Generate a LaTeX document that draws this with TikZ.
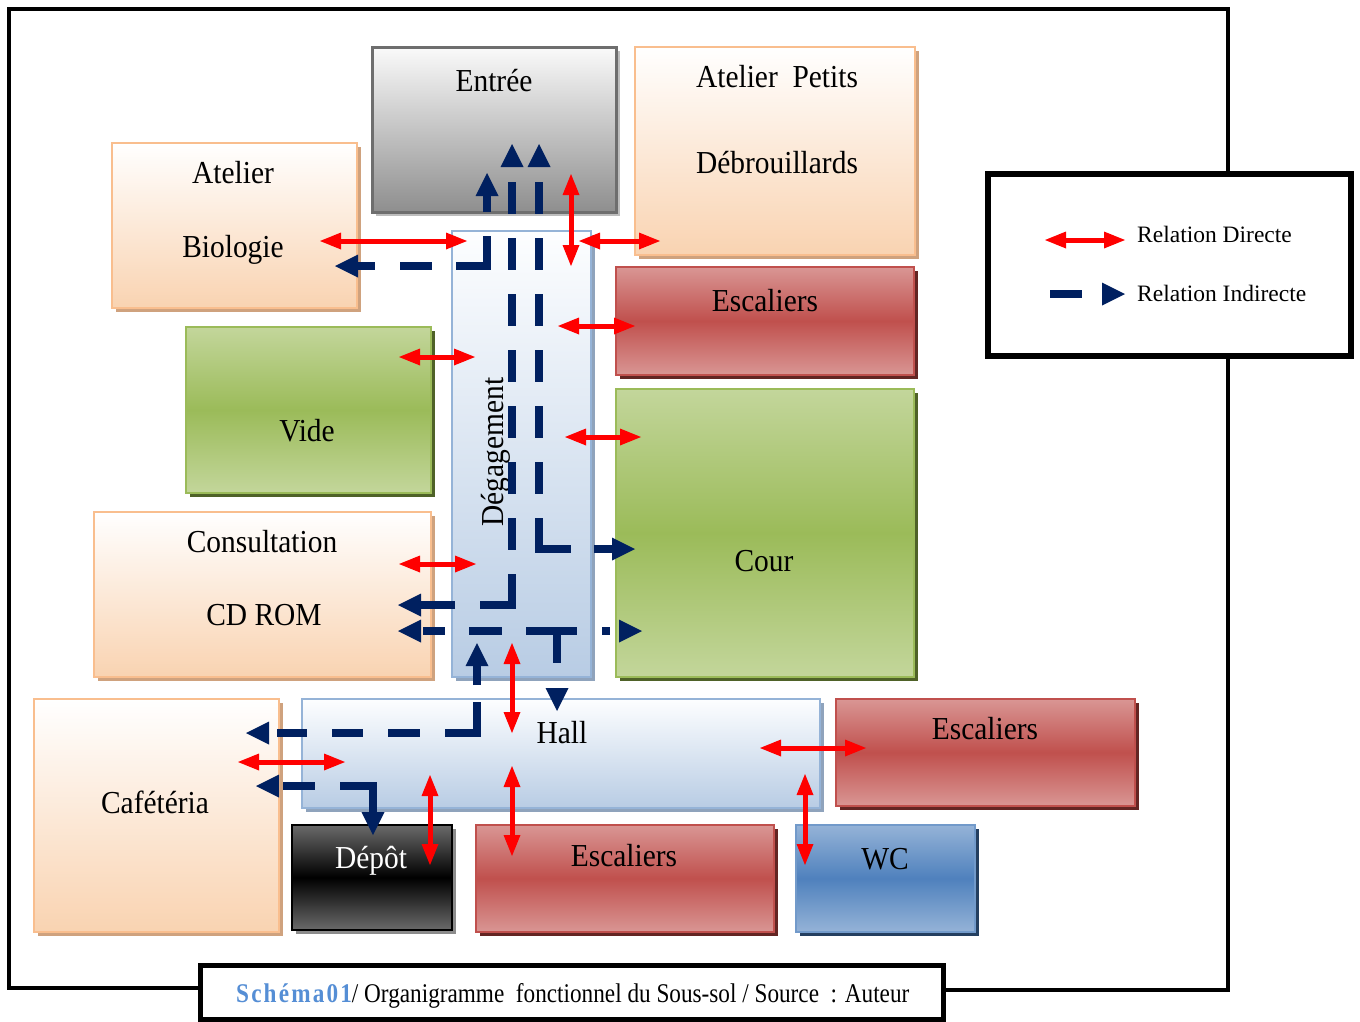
\documentclass[tikz,border=0pt]{standalone}
\usepackage{fontspec}
\setmainfont{Liberation Serif}
\newfontfamily\labf{Liberation Serif}[FakeStretch=0.92]
\newfontfamily\capf{Liberation Serif}[FakeStretch=0.86]
\newfontfamily\capsf{Liberation Serif}[FakeStretch=0.86,LetterSpace=8]
\usetikzlibrary{arrows.meta,shadows,fit}

\definecolor{navyc}{HTML}{002060}
\definecolor{redc}{HTML}{FF0000}
\definecolor{peachF}{HTML}{F9D3B1}
\definecolor{peachB}{HTML}{F9BE8E}
\definecolor{peachS}{HTML}{CFA27E}
\definecolor{grayT}{HTML}{FAFAFA}
\definecolor{grayB}{HTML}{8E8E8E}
\definecolor{grayD}{HTML}{6E6E6E}
\definecolor{grayS}{HTML}{BDBDBD}
\definecolor{blueT}{HTML}{FDFEFF}
\definecolor{blueB}{HTML}{B8CCE4}
\definecolor{blueD}{HTML}{95B3D7}
\definecolor{blueS}{HTML}{8FA3BC}
\definecolor{redL}{HTML}{D99694}
\definecolor{redM}{HTML}{C0504D}
\definecolor{redS}{HTML}{632523}
\definecolor{grnL}{HTML}{C3D69B}
\definecolor{grnM}{HTML}{9BBB59}
\definecolor{grnS}{HTML}{4F6228}
\definecolor{wcL}{HTML}{95B3D7}
\definecolor{wcM}{HTML}{4F81BD}
\definecolor{wcS}{HTML}{243F60}
\definecolor{dpL}{HTML}{6A6A6A}
\definecolor{dpS}{HTML}{8C8C8C}
\definecolor{capblue}{HTML}{558ED5}

\tikzset{
  redtip/.tip={Triangle[length=21pt,width=17pt,line width=0pt]},
  navtip/.tip={Triangle[length=23pt,width=23pt,line width=0pt]},
  room/.style={rectangle, inner sep=0pt, outer sep=0pt, line width=2.5pt},
  shd/.style={drop shadow={shadow xshift=4pt, shadow yshift=-4pt, opacity=1, fill=#1}},
  peachbox/.style={room, draw=peachB, top color=white, bottom color=peachF, shd=peachS},
  graybox/.style={room, draw=grayD, line width=3pt, top color=grayT, bottom color=grayB, shd=grayS},
  bluebox/.style={room, draw=blueD, top color=blueT, bottom color=blueB, shd=blueS},
  redbox/.style={room, draw=redM, top color=redL, bottom color=redL, middle color=redM, shd=redS},
  greenbox/.style={room, draw=grnM, top color=grnL, bottom color=grnL, middle color=grnM, shd=grnS},
  wcbox/.style={room, draw=wcM!80, top color=wcL, bottom color=wcL, middle color=wcM, shd=wcS},
  blackbox/.style={room, draw=black, top color=dpL, bottom color=dpL, middle color=black, shd=dpS},
  lab/.style={font=\labf\fontsize{32}{36}\selectfont, inner sep=0pt, anchor=base},
  legtext/.style={font=\fontsize{23.5}{26}\selectfont, inner sep=0pt, anchor=base west},
  direct/.style={draw=redc, line width=5pt, redtip-redtip},
  indirect/.style={draw=navyc, line width=7.5pt},
  frame/.style={draw=black, line width=4pt},
}

\begin{document}
\begin{tikzpicture}[x=1pt, y=-1pt]
\useasboundingbox (0,0) rectangle (1360,1021);

% outer frame
\draw[frame] (1228,174) -- (1228,9) -- (9,9) -- (9,988) -- (200,988);
\draw[frame] (943,990) -- (1228,990) -- (1228,356);

% rooms
\node[graybox, fit={(372,47)(616,212)}] (entree) {};
\node[peachbox, fit={(635,47)(915,255)}] (debr) {};
\node[peachbox, fit={(112,143)(357,308)}] (bio) {};
\node[bluebox, fit={(452,231)(591,677)}] (deg) {};
\node[redbox, fit={(616,267)(914,375)}] (esc1) {};
\node[greenbox, fit={(186,327)(431,493)}] (vide) {};
\node[greenbox, fit={(616,389)(914,677)}] (cour) {};
\node[peachbox, fit={(94,512)(431,677)}] (cons) {};
\node[bluebox, fit={(302,699)(820,808)}] (hall) {};
\node[redbox, fit={(836,699)(1135,806)}] (esc2) {};
\node[peachbox, fit={(34,699)(279,932)}] (cafe) {};
\node[blackbox, fit={(292,825)(452,930)}] (depot) {};
\node[redbox, fit={(476,825)(774,932)}] (esc3) {};
\node[wcbox, fit={(796,825)(975,932)}] (wc) {};

% labels
\node[lab] (t-entree) at (494,91) {Entrée};
\node[lab] (t-debr1) at (777,87) {Atelier\ \ Petits};
\node[lab] (t-debr2) at (777,173) {Débrouillards};
\node[lab] (t-bio1) at (233,183) {Atelier};
\node[lab] (t-bio2) at (233,257) {Biologie};
\node[lab, rotate=90] (t-deg) at (503,452) {Dégagement};
\node[lab] (t-esc1) at (765,311) {Escaliers};
\node[lab] (t-vide) at (307,441) {Vide};
\node[lab] (t-cour) at (764,571) {Cour};
\node[lab] (t-cons1) at (262,552) {Consultation};
\node[lab] (t-cons2) at (264,625) {CD ROM};
\node[lab] (t-hall) at (562,743) {Hall};
\node[lab] (t-esc2) at (985,739) {Escaliers};
\node[lab] (t-cafe) at (155,813) {Cafétéria};
\node[lab, text=white] (t-depot) at (371,868) {Dépôt};
\node[lab] (t-esc3) at (624,866) {Escaliers};
\node[lab] (t-wc) at (885,869) {WC};

% direct relations (red)
\coordinate (d1a) at (320,241);  \coordinate (d1b) at (467,241);
\coordinate (d2a) at (571,174);  \coordinate (d2b) at (571,266);
\coordinate (d3a) at (579,241);  \coordinate (d3b) at (660,241);
\coordinate (d4a) at (558,326);  \coordinate (d4b) at (635,326);
\coordinate (d5a) at (399,357);  \coordinate (d5b) at (475,357);
\coordinate (d6a) at (565,437);  \coordinate (d6b) at (641,437);
\coordinate (d7a) at (399,564);  \coordinate (d7b) at (476,564);
\coordinate (d8a) at (512,643);  \coordinate (d8b) at (512,733);
\coordinate (d9a) at (760,748);  \coordinate (d9b) at (866,748);
\coordinate (d10a) at (805,774); \coordinate (d10b) at (805,865);
\coordinate (d11a) at (238,762); \coordinate (d11b) at (345,762);
\coordinate (d12a) at (430,775); \coordinate (d12b) at (430,865);
\coordinate (d13a) at (512,766); \coordinate (d13b) at (512,856);
\foreach \i in {1,...,13} { \draw[direct] (d\i a) -- (d\i b); }

% indirect relations (navy, dashed)
\coordinate (p1s) at (335,266); \coordinate (p1c) at (487,266); \coordinate (p1e) at (487,173);
\draw[indirect, navtip-navtip, dash pattern=on 17pt off 25pt on 32pt off 24pt on 61pt off 24pt on 40pt off 10pt]
  (p1s) -- (p1c) -- (p1e);

\coordinate (p2s) at (512,144); \coordinate (p2c) at (512,605); \coordinate (p2e) at (398,605);
\draw[indirect, navtip-navtip, dash phase=520pt, dash pattern=on 32pt off 24pt on 32pt off 24pt on 32pt off 24pt on 32pt off 24pt on 32pt off 24pt on 32pt off 24pt on 32pt off 24pt on 63pt off 25pt on 40pt off 15pt]
  (p2s) -- (p2c) -- (p2e);

\coordinate (p3s) at (539,144); \coordinate (p3c) at (539,549); \coordinate (p3e) at (635,549);
\draw[indirect, navtip-navtip, dash phase=452pt, dash pattern=on 32pt off 24pt on 32pt off 24pt on 32pt off 24pt on 32pt off 24pt on 32pt off 24pt on 32pt off 24pt on 63pt off 23pt on 30pt off 15pt]
  (p3s) -- (p3c) -- (p3e);

\coordinate (p4s) at (398,631); \coordinate (p4e) at (642,631);
\draw[indirect, navtip-navtip, dash phase=197pt, dash pattern=on 22pt off 24pt on 33pt off 24pt on 51pt off 25pt on 8pt off 12pt]
  (p4s) -- (p4e);

\coordinate (p5s) at (557,631); \coordinate (p5e) at (557,711);
\draw[indirect, -navtip, dash pattern=on 32pt off 40pt] (p5s) -- (p5e);

\coordinate (p6s) at (246,733); \coordinate (p6c) at (477,733); \coordinate (p6e) at (477,643);
\draw[indirect, navtip-navtip, dash phase=278pt, dash pattern=on 30pt off 25pt on 31pt off 25pt on 32pt off 25pt on 63pt off 17pt on 30pt off 8pt]
  (p6s) -- (p6c) -- (p6e);

\coordinate (p7s) at (256,786); \coordinate (p7c) at (373,786); \coordinate (p7e) at (373,835);
\draw[indirect, navtip-navtip, dash phase=137pt, dash pattern=on 32pt off 25pt on 80pt off 4pt]
  (p7s) -- (p7c) -- (p7e);

% legend
\node[draw=black, line width=6pt, fill=white, inner sep=0pt, fit={(988,174)(1351,356)}] (legend) {};
\coordinate (lg1a) at (1045,240); \coordinate (lg1b) at (1125,240);
\draw[direct] (lg1a) -- (lg1b);
\coordinate (lg2a) at (1050,294); \coordinate (lg2b) at (1125,294);
\draw[indirect, -navtip, dash pattern=on 32pt off 40pt] (lg2a) -- (lg2b);
\node[legtext] (lg1t) at (1137,242) {Relation Directe};
\node[legtext] (lg2t) at (1137,301) {Relation Indirecte};

% caption
\node[draw=black, line width=5pt, fill=white, inner sep=0pt, fit={(200,965)(943,1019)}] (capbox) {};
\node[anchor=base west, inner sep=0pt, font=\capf\fontsize{27}{30}\selectfont] (captxt) at (236,1002)
  {\textcolor{capblue}{\capsf\bfseries Schéma01}/ Organigramme\ \ fonctionnel du Sous-sol / Source\ \ : Auteur};
\end{tikzpicture}
\end{document}
